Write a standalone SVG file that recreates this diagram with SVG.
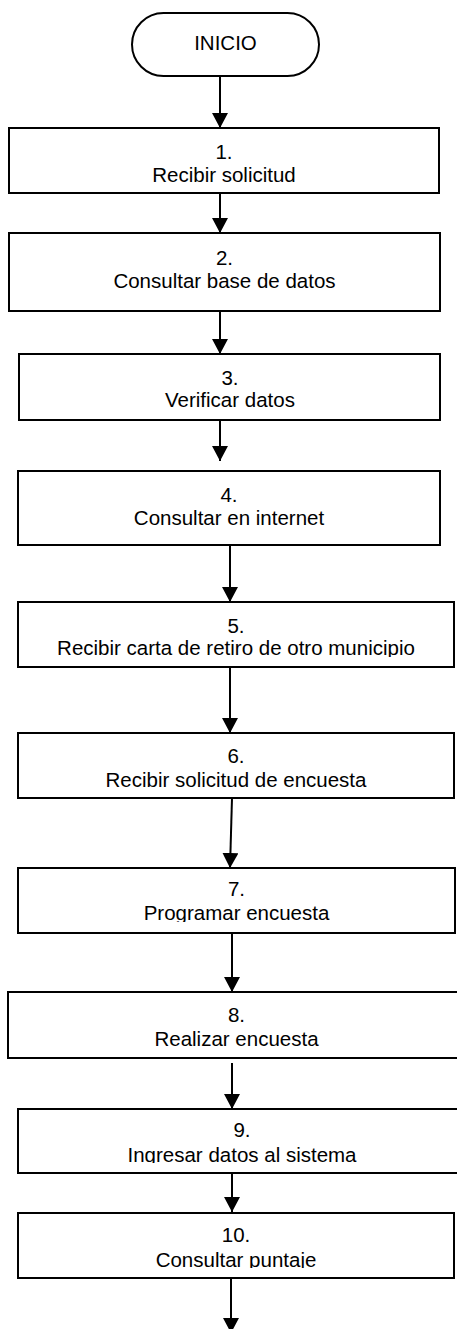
<svg xmlns="http://www.w3.org/2000/svg" width="457" height="1329" viewBox="0 0 457 1329">
<style>
.box{fill:#fff;stroke:#000;stroke-width:2}
.t{font-family:"Liberation Sans",Arial,sans-serif;font-size:20.5px;fill:#000;text-anchor:middle}
.c{stroke:#000;stroke-width:2;fill:none;marker-end:url(#ah)}
</style>
<defs>
<marker id="ah" viewBox="0 0 15 16" refX="15" refY="8" markerWidth="15" markerHeight="16" markerUnits="userSpaceOnUse" orient="auto">
<path d="M0,0 L15,8 L0,16 z" fill="#000"/>
</marker>
<clipPath id="c5"><rect x="0" y="600" width="457" height="57"/></clipPath>
<clipPath id="c7"><rect x="0" y="866" width="457" height="56"/></clipPath>
<clipPath id="c9"><rect x="0" y="1107" width="457" height="56"/></clipPath>
<clipPath id="c10"><rect x="0" y="1211" width="457" height="57"/></clipPath>
</defs>
<rect width="457" height="1329" fill="#fff"/>
<g id="connectors">
<line class="c" x1="220" y1="76" x2="220" y2="128"/>
<line class="c" x1="220" y1="193" x2="220" y2="233"/>
<line class="c" x1="220" y1="311" x2="220" y2="354"/>
<line class="c" x1="220" y1="420" x2="220" y2="461"/>
<line class="c" x1="230" y1="545" x2="230" y2="602"/>
<line class="c" x1="230" y1="667" x2="230" y2="733"/>
<line class="c" x1="232" y1="798" x2="230" y2="868"/>
<line class="c" x1="232" y1="933" x2="232" y2="992"/>
<line class="c" x1="232" y1="1063" x2="232" y2="1109"/>
<line class="c" x1="232" y1="1173" x2="232" y2="1212"/>
<line class="c" x1="231" y1="1278" x2="231" y2="1333"/>
</g>
<g id="inicio">
<rect class="box" x="132" y="13" width="187" height="63" rx="31.5" ry="31.5"/>
<text class="t" x="225.5" y="50">INICIO</text>
</g>
<g id="n1">
<rect class="box" x="9" y="128" width="430" height="65"/>
<text class="t" x="224" y="159">1.</text>
<text class="t" x="224" y="181.5">Recibir solicitud</text>
</g>
<g id="n2">
<rect class="box" x="9" y="233" width="431" height="78"/>
<text class="t" x="224.5" y="265">2.</text>
<text class="t" x="224.5" y="288">Consultar base de datos</text>
</g>
<g id="n3">
<rect class="box" x="19" y="354" width="421" height="66"/>
<text class="t" x="230" y="385">3.</text>
<text class="t" x="230" y="407">Verificar datos</text>
</g>
<g id="n4">
<rect class="box" x="18" y="471" width="422" height="74"/>
<text class="t" x="229" y="502">4.</text>
<text class="t" x="229" y="525">Consultar en internet</text>
</g>
<g id="n5">
<rect class="box" x="18" y="602" width="436" height="65"/>
<text class="t" x="236" y="633">5.</text>
<text class="t" x="236" y="655" clip-path="url(#c5)">Recibir carta de retiro de otro municipio</text>
</g>
<g id="n6">
<rect class="box" x="18" y="733" width="436" height="65"/>
<text class="t" x="236" y="763">6.</text>
<text class="t" x="236" y="787">Recibir solicitud de encuesta</text>
</g>
<g id="n7">
<rect class="box" x="18" y="868" width="437" height="65"/>
<text class="t" x="236.5" y="896">7.</text>
<text class="t" x="236.5" y="920" clip-path="url(#c7)">Programar encuesta</text>
</g>
<g id="n8">
<rect class="box" x="8" y="992" width="457" height="66"/>
<text class="t" x="236.5" y="1022">8.</text>
<text class="t" x="236.5" y="1046">Realizar encuesta</text>
</g>
<g id="n9">
<rect class="box" x="18" y="1109" width="448" height="64"/>
<text class="t" x="242" y="1137">9.</text>
<text class="t" x="242" y="1161.5" clip-path="url(#c9)">Ingresar datos al sistema</text>
</g>
<g id="n10">
<rect class="box" x="18" y="1213" width="436" height="65"/>
<text class="t" x="236" y="1242">10.</text>
<text class="t" x="236" y="1266.5" clip-path="url(#c10)">Consultar puntaje</text>
</g>
</svg>
